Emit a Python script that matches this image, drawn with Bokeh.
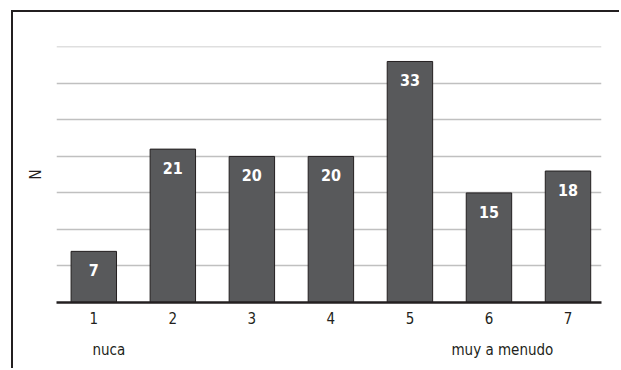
from bokeh.plotting import figure
from bokeh.models import ColumnDataSource, Range1d, FixedTicker, LinearAxis
from bokeh.core.properties import value
from bokeh.embed import file_html
from bokeh.resources import INLINE

# Frequency answers on a 1-7 scale
categories = [1, 2, 3, 4, 5, 6, 7]
counts = [7, 21, 20, 20, 33, 15, 18]
tick_labels = ["1", "2", "3", "4", "5", "6", "7"]
grid_values = [0, 5, 10, 15, 20, 25, 30, 35]
scale_end_positions = [1.19, 6.17]
scale_ends = ["nuca", "muy a menudo"]
axis_title = "N"

FONT = "'Liberation Sans Narrow', 'DejaVu Sans Condensed', 'Roboto Condensed', 'Liberation Sans', sans-serif"
INK = "#231f20"

src = ColumnDataSource(dict(
    x=categories,
    n=counts,
    label=[str(c) for c in counts],
))

p = figure(
    width=608, height=358,
    x_range=Range1d(0.528, 7.424),
    y_range=Range1d(0, 35.05),
    output_backend="svg",
    toolbar_location=None,
    min_border_left=43, min_border_right=20,
    min_border_top=34, min_border_bottom=68,
)
p.styles = {"border-left": f"2px solid {INK}", "border-top": f"2px solid {INK}"}
p.margin = (10, 0, 0, 11)
p.outline_line_color = None
p.background_fill_color = "white"
p.border_fill_color = "white"

p.vbar(x="x", top="n", width=0.575, source=src,
       fill_color="#58595b", line_color=INK, line_width=1)

p.text(x="x", y="n", text="label", source=src,
       text_color="white", text_font=value(FONT), text_font_style="bold",
       text_font_size="16px", text_align="center", text_baseline="middle",
       y_offset=19)

# x axis: category ticks, heavy baseline, no tick marks
p.xaxis.ticker = FixedTicker(ticks=categories)
p.xaxis.major_label_overrides = {c: t for c, t in zip(categories, tick_labels)}
p.xaxis.major_tick_line_color = None
p.xaxis.minor_tick_line_color = None
p.xaxis.axis_line_color = INK
p.xaxis.axis_line_width = 2.5
p.xaxis.major_label_standoff = 3
p.xaxis.major_label_text_font = FONT
p.xaxis.major_label_text_font_size = "15px"
p.xaxis.major_label_text_color = INK

# second row under the axis: meaning of the scale ends
ends_axis = LinearAxis(
    ticker=FixedTicker(ticks=scale_end_positions),
    major_label_overrides={v: t for v, t in zip(scale_end_positions, scale_ends)},
    axis_line_color=None,
    major_tick_line_color=None,
    minor_tick_line_color=None,
    major_label_standoff=8,
    major_label_text_font=FONT,
    major_label_text_font_size="15px",
    major_label_text_color=INK,
)
p.add_layout(ends_axis, "below")

# y axis: only the title; grid lines every 5
p.yaxis.ticker = FixedTicker(ticks=[])
p.yaxis.major_tick_line_color = None
p.yaxis.minor_tick_line_color = None
p.yaxis.axis_line_color = None
p.yaxis.major_label_standoff = 0
p.yaxis.axis_label = axis_title
p.yaxis.axis_label_text_font = FONT
p.yaxis.axis_label_text_font_style = "normal"
p.yaxis.axis_label_text_font_size = "15px"
p.yaxis.axis_label_text_color = INK
p.yaxis.axis_label_standoff = 12

p.xgrid.grid_line_color = None
p.ygrid.ticker = FixedTicker(ticks=grid_values)
p.ygrid.grid_line_color = "#c0c0c0"
p.ygrid.grid_line_width = 1.5

open("out.html", "w").write(file_html(p, INLINE))
